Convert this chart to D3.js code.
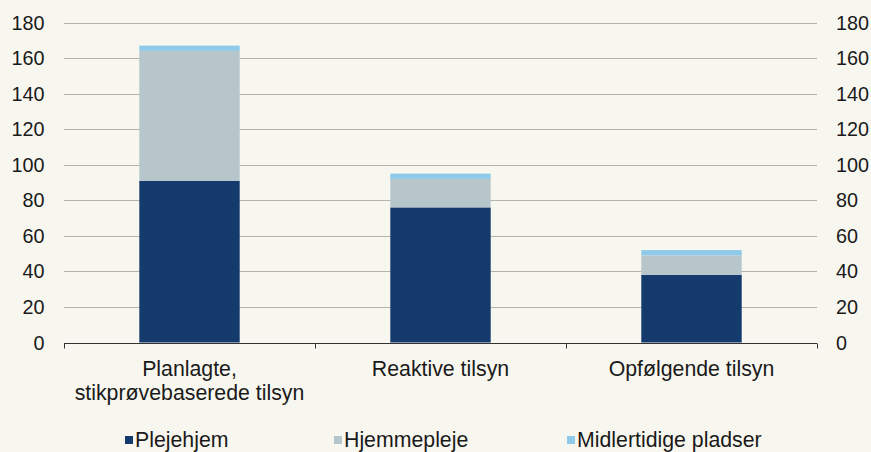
<!DOCTYPE html>
<html>
<head>
<meta charset="utf-8">
<script src="https://cdn.jsdelivr.net/npm/d3@7"></script>
<style>
  html, body { margin: 0; padding: 0; background: #F8F7EF; }
  svg { display: block; }
  text { font-family: "Liberation Sans", Arial, sans-serif; fill: #1a1a1a; }
</style>
</head>
<body>
<svg id="chart" width="871" height="452"></svg>
<script>
const categories = ["Planlagte,\nstikprøvebaserede tilsyn", "Reaktive tilsyn", "Opfølgende tilsyn"];
const seriesNames = ["Plejehjem", "Hjemmepleje", "Midlertidige pladser"];
const plejehjem = [91, 76, 38];
const hjemmepleje = [73, 16, 11];
const midlertidige = [3, 3, 3];
const colors = ["#143A6E", "#B7C6CB", "#8FCBE9"];
const yTicks = [0, 20, 40, 60, 80, 100, 120, 140, 160, 180];

(function () {
const svg = d3.select("#chart");
const W = 871, H = 452;
svg.append("rect").attr("width", W).attr("height", H).attr("fill", "#F8F7EF");

const pLeft = 64, pRight = 817, pTop = 22.5, pBottom = 342.5;
const tickFont = 19.8;
const labelFont = 21.3;

const x = d3.scaleBand().domain(categories).range([pLeft, pRight]).paddingInner(0.6).paddingOuter(0.3);
const y = d3.scaleLinear().domain([0, 180]).range([pBottom, pTop]);

// gridlines
svg.append("g").selectAll("line").data(yTicks.filter(d => d > 0)).join("line")
  .attr("x1", pLeft).attr("x2", pRight)
  .attr("y1", d => Math.round(y(d)) + 0.5).attr("y2", d => Math.round(y(d)) + 0.5)
  .attr("stroke", "#B4B4AE").attr("stroke-width", 1);

// stacked data
const table = categories.map((c, i) => ({
  cat: c,
  "Plejehjem": plejehjem[i],
  "Hjemmepleje": hjemmepleje[i],
  "Midlertidige pladser": midlertidige[i]
}));
const stack = d3.stack().keys(seriesNames)(table);

svg.append("g").selectAll("g").data(stack).join("g")
  .attr("fill", (d, i) => colors[i])
  .selectAll("rect").data(d => d).join("rect")
  .attr("x", d => x(d.data.cat))
  .attr("width", x.bandwidth())
  .attr("y", d => y(d[1]))
  .attr("height", d => y(d[0]) - y(d[1]));

// bottom axis line and ticks at category boundaries
const axisY = Math.round(pBottom) + 0.5;
svg.append("line").attr("x1", pLeft).attr("x2", pRight).attr("y1", axisY).attr("y2", axisY)
  .attr("stroke", "#333").attr("stroke-width", 1);
const boundaries = d3.range(categories.length + 1).map(i => pLeft + i * (pRight - pLeft) / categories.length);
svg.append("g").selectAll("line").data(boundaries).join("line")
  .attr("x1", d => Math.round(d) + 0.5).attr("x2", d => Math.round(d) + 0.5)
  .attr("y1", axisY).attr("y2", axisY + 5)
  .attr("stroke", "#333").attr("stroke-width", 1);

// category labels
categories.forEach(c => {
  const lines = c.split("\n");
  const cx = x(c) + x.bandwidth() / 2;
  const t = svg.append("text")
    .attr("x", cx)
    .attr("y", 376)
    .attr("text-anchor", "middle")
    .style("font-size", labelFont + "px");
  lines.forEach((ln, j) => {
    t.append("tspan").attr("x", cx).attr("dy", j === 0 ? 0 : 24).text(ln);
  });
});

// y tick labels, left and right
svg.append("g").selectAll("text").data(yTicks).join("text")
  .attr("x", 44.5).attr("y", d => y(d) + 7)
  .attr("text-anchor", "end")
  .style("font-size", tickFont + "px")
  .text(d => d);
svg.append("g").selectAll("text").data(yTicks).join("text")
  .attr("x", 836).attr("y", d => y(d) + 7)
  .attr("text-anchor", "start")
  .style("font-size", tickFont + "px")
  .text(d => d);

// legend
const legendX = [125, 334, 567];
const lg = svg.append("g").selectAll("g").data(seriesNames).join("g")
  .attr("transform", (d, i) => `translate(${legendX[i]},0)`);
lg.append("rect").attr("x", 0).attr("y", 436).attr("width", 8).attr("height", 8)
  .attr("fill", (d, i) => colors[i]);
lg.append("text").attr("x", 10).attr("y", 447)
  .style("font-size", labelFont + "px")
  .text(d => d);
})();
</script>
</body>
</html>
